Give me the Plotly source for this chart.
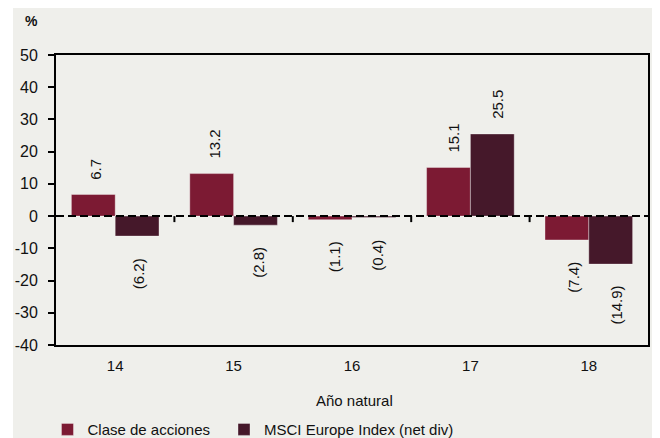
import plotly.graph_objects as go

years = ["14", "15", "16", "17", "18"]
clase = [6.7, 13.2, -1.1, 15.1, -7.4]
msci = [-6.2, -2.8, -0.4, 25.5, -14.9]
series_names = ["Clase de acciones", "MSCI Europe Index (net div)"]
colors = ["#7c1a33", "#45182a"]
y_ticks = [50, 40, 30, 20, 10, 0, -10, -20, -30, -40]
y_ticklabels = ["50", "40", "30", "20", "10", "0", "-10", "-20", "-30", "-40"]

FONT = "Liberation Sans, Arial, sans-serif"
BG = "#efefeb"
TXT = "#111111"

xs = list(range(len(years)))
W = 0.37

fig = go.Figure()
for name, vals, col, off, lg in [(series_names[0], clase, colors[0], -W, "legend"),
                                  (series_names[1], msci, colors[1], 0, "legend2")]:
    fig.add_trace(go.Bar(
        x=xs, y=vals, name=name, width=W, offset=off, legend=lg,
        marker=dict(color=col, line=dict(color="rgba(255,255,255,0.35)", width=1)),
    ))

def fmt(v):
    return f"({abs(v):.1f})" if v < 0 else f"{v:.1f}"

annotations = []
for vals, sign in [(clase, -1), (msci, 1)]:
    for i, v in enumerate(vals):
        annotations.append(dict(
            x=i + sign * W / 2, y=v, xref="x", yref="y",
            text=fmt(v), textangle=-90, showarrow=False,
            xanchor="center",
            yanchor="bottom" if v >= 0 else "top",
            yshift=13 if v >= 0 else -20,
            xshift=1.5 + 1.2 * i,
            font=dict(family=FONT, size=15, color=TXT),
        ))

annotations.append(dict(x=-0.042, y=1.117, xref="paper", yref="paper", text="<b>%</b>",
                        xanchor="center", yanchor="middle",
                        showarrow=False, font=dict(family=FONT, size=14, color=TXT)))
annotations.append(dict(x=0.505, y=-0.193, xref="paper", yref="paper", text="Año natural",
                        xanchor="center", yanchor="middle",
                        showarrow=False, font=dict(family=FONT, size=15, color=TXT)))

shapes = [
    dict(type="rect", xref="paper", yref="paper", x0=-0.0726, x1=1.017, y0=-0.35, y1=1.2,
         fillcolor=BG, line=dict(width=0), layer="below"),
    dict(type="line", xref="paper", yref="y", x0=0, x1=1, y0=0, y1=0,
         line=dict(color="black", width=2, dash="8px,4px"), layer="above"),
]
for i in range(len(years) - 1):
    shapes.append(dict(type="line", xref="x", yref="y", x0=i + 0.5, x1=i + 0.5,
                       ysizemode="pixel", yanchor=0, y0=0, y1=-6,
                       line=dict(color="black", width=2)))

legend_common = dict(orientation="h", y=-0.235, xanchor="left", yanchor="top",
                     bgcolor="rgba(0,0,0,0)", font=dict(family=FONT, size=15, color=TXT))

fig.update_layout(
    width=652, height=430,
    margin=dict(l=48, r=12, t=47, b=93, autoexpand=False),
    paper_bgcolor="white", plot_bgcolor=BG,
    font=dict(family=FONT, size=15, color=TXT),
    barmode="overlay",
    showlegend=True,
    legend=dict(x=-0.0144, **legend_common),
    legend2=dict(x=0.2838, **legend_common),
    xaxis=dict(range=[-0.5, 4.5], tickvals=xs, ticktext=years, showgrid=False, zeroline=False,
               showline=True, linecolor="black", linewidth=2, mirror=True, ticks="",
               ticklabelstandoff=6,
               tickfont=dict(family=FONT, size=15, color=TXT)),
    yaxis=dict(range=[-40, 50], tickvals=y_ticks, ticktext=y_ticklabels, showgrid=False, zeroline=False,
               showline=True, linecolor="black", linewidth=2, mirror=True,
               ticks="outside", ticklen=6, tickwidth=2, tickcolor="black",
               ticklabelstandoff=7,
               tickfont=dict(family=FONT, size=16, color=TXT)),
    annotations=annotations, shapes=shapes,
)

fig.write_html("out.html")
